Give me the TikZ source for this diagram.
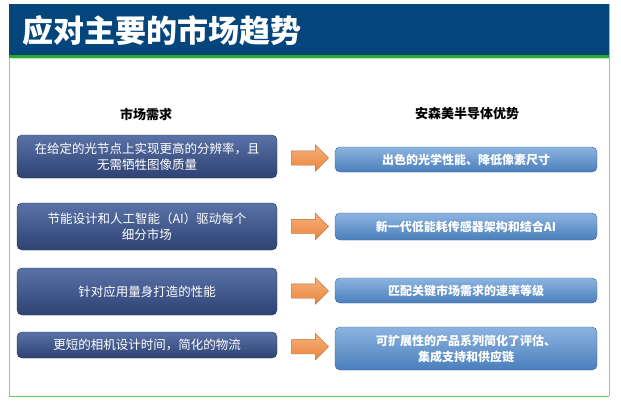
\documentclass[tikz,border=0pt]{standalone}
\usepackage{fontspec}
\setmainfont{Noto Sans CJK SC}
\usetikzlibrary{shapes.arrows}
\definecolor{hdr}{HTML}{04467C}
\definecolor{lbox1}{HTML}{5A72A8}
\definecolor{lbox2}{HTML}{2E4272}
\definecolor{rbox1}{HTML}{8DB4E0}
\definecolor{rbox2}{HTML}{4A7EBB}
\definecolor{arr1}{HTML}{F6B07A}
\definecolor{arr2}{HTML}{E9853E}
\tikzset{
 lbox/.style={rounded corners=5pt,draw=lbox2!80!black,top color=lbox1,bottom color=lbox2,text=white,font=\fontsize{12.5}{16}\selectfont,align=center,inner sep=2pt},
 rbox/.style={rounded corners=5pt,draw=rbox2!80!black,top color=rbox1,bottom color=rbox2,text=white,font=\bfseries\fontsize{12}{16}\selectfont,align=center,inner sep=2pt},
 arw/.style={single arrow,draw=arr2!80!black,top color=arr1,bottom color=arr2,minimum width=26pt,single arrow head extend=6pt,single arrow head indent=0pt,minimum height=37pt,inner xsep=0pt,inner ysep=7pt},
 head/.style={font=\bfseries\fontsize{13}{15}\selectfont}
}
\begin{document}
\begin{tikzpicture}[x=1pt,y=-1pt]
\useasboundingbox (0,0) rectangle (621,405);
\fill[white] (0,0) rectangle (621,405);
\draw[gray!60] (9,4) -- (9,396) (609,4) -- (609,396);
\draw[green!60!black!60,line width=1pt] (9,396) -- (609,396);
\fill[hdr] (9,4) rectangle (609,55);
\fill[green!55!black!80] (9,55) rectangle (609,58);
\fill[green!35] (9,58) rectangle (609,59);
\node[anchor=west,text=white,font=\bfseries\fontsize{31}{34}\selectfont,inner sep=0pt] (title) at (22,31) {应对主要的市场趋势};
\node[head] (h1) at (146,114) {市场需求};
\node[head] (h2) at (467,114) {安森美半导体优势};
\foreach \i/\ly/\lh/\ry/\rh/\lt/\rt in {
 1/156.5/43/159.5/25/{在给定的光节点上实现更高的分辨率，且\\无需牺牲图像质量}/{出色的光学性能、降低像素尺寸},
 2/226.5/47/226.5/27/{节能设计和人工智能（AI）驱动每个\\细分市场}/{新一代低能耗传感器架构和结合AI},
 3/291.5/47/290.5/25/{针对应用量身打造的性能}/{匹配关键市场需求的速率等级},
 4/345/26/348.5/43/{更短的相机设计时间，简化的物流}/{可扩展性的产品系列简化了评估、\\集成支持和供应链}}{
 \node[lbox,minimum width=260pt,minimum height=\lh pt] (l\i) at (147,\ly) {\lt};
 \node[rbox,minimum width=262pt,minimum height=\rh pt] (r\i) at (466,\ry) {\rt};
 \node[arw] (a\i) at (306.5,{(\ly+\ry)/2}) {};
}
\end{tikzpicture}
\end{document}
